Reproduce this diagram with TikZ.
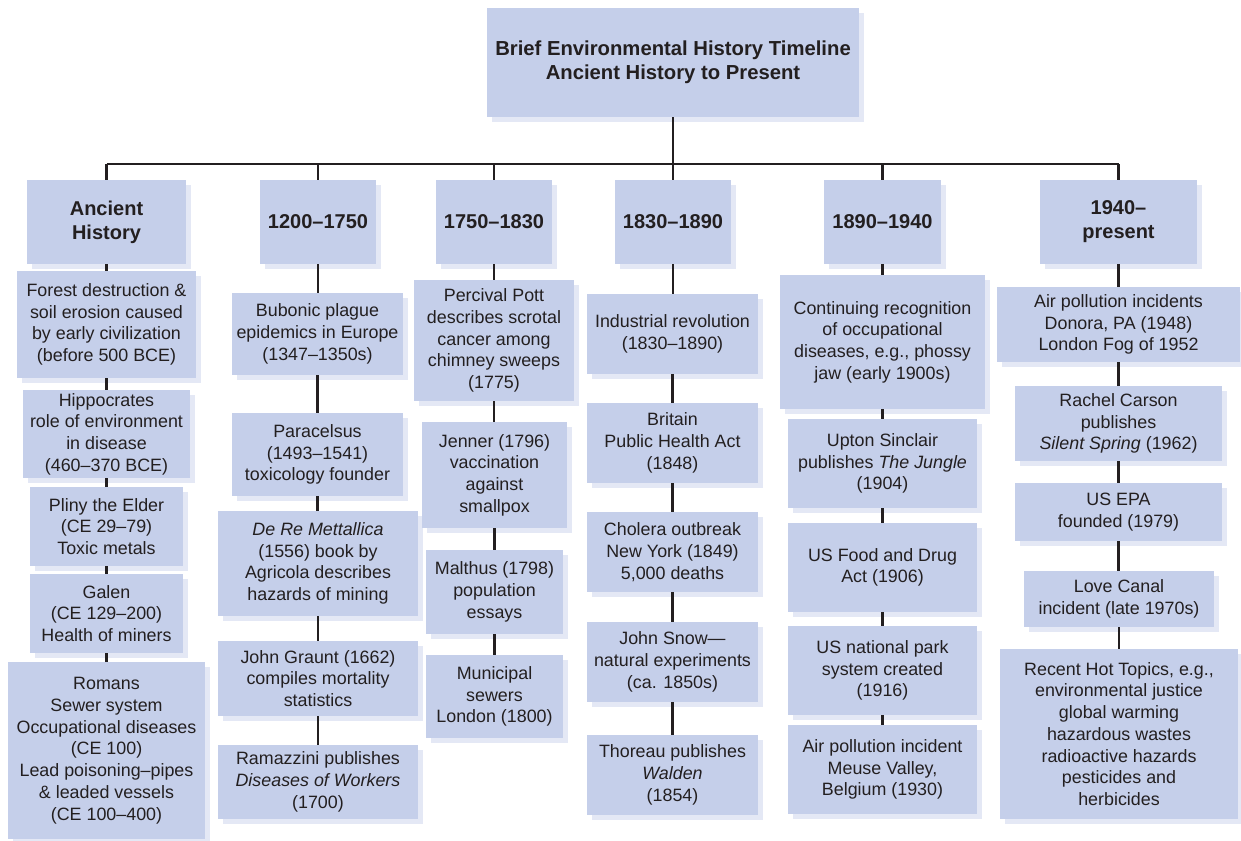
\documentclass[tikz,border=0pt]{standalone}
\usepackage{fontspec}
\setmainfont{Liberation Sans}
\definecolor{boxc}{HTML}{C5CFEA}
\definecolor{shadowc}{HTML}{E4E8F5}
\definecolor{textc}{HTML}{231F20}
\tikzset{
  evbox/.style={fill=boxc, inner sep=0pt, align=center, text=textc,
    font=\fontsize{13.4}{16.3}\selectfont},
  hdbox/.style={evbox, font=\bfseries\fontsize{15}{18}\selectfont},
  ttbox/.style={evbox, font=\bfseries\fontsize{15.2}{18}\selectfont},
  conn/.style={draw=textc, line width=1.6pt}
}
\newcommand\tlbox[7]{%
  \fill[shadowc] (#3+5,#4+5) rectangle (#5+5,#6+5);
  \node[#1, minimum width={(#5-#3)*0.75pt}, minimum height={(#6-#4)*0.75pt}]
    (#2) at ({(#3+#5)/2},{(#4+#6)/2}) {#7};
}
\begin{document}
\begin{tikzpicture}[x=0.75pt,y=-0.75pt]
\useasboundingbox (0,0) rectangle (1241,841);

% title
\tlbox{ttbox}{title}{487}{8}{859}{117}{Brief Environmental History Timeline\\Ancient History to Present}

% headers
\tlbox{hdbox}{h1}{27}{180}{186}{264}{Ancient\\History}
\tlbox{hdbox}{h2}{260}{180}{376}{264}{1200--1750}
\tlbox{hdbox}{h3}{436}{180}{552}{264}{1750--1830}
\tlbox{hdbox}{h4}{615}{180}{731}{264}{1830--1890}
\tlbox{hdbox}{h5}{824}{180}{941}{264}{1890--1940}
\tlbox{hdbox}{h6}{1040}{180}{1197}{264}{1940--\\present}

% column 1
\tlbox{evbox}{a1}{17}{271}{196}{378}{Forest destruction \&\\soil erosion caused\\by early civilization\\(before 500 BCE)}
\tlbox{evbox}{a2}{23}{390}{190}{478}{Hippocrates\\role of environment\\in disease\\(460--370 BCE)}
\tlbox{evbox}{a3}{30}{487}{183}{566}{Pliny the Elder\\(CE 29--79)\\Toxic metals}
\tlbox{evbox}{a4}{30}{574}{183}{653}{Galen\\(CE 129--200)\\Health of miners}
\tlbox{evbox}{a5}{8}{662}{205}{839}{Romans\\Sewer system\\Occupational diseases\\(CE 100)\\Lead poisoning--pipes\\\& leaded vessels\\(CE 100--400)}

% column 2
\tlbox{evbox}{b1}{232}{293}{403}{375}{Bubonic plague\\epidemics in Europe\\(1347--1350s)}
\tlbox{evbox}{b2}{232}{413}{403}{496}{Paracelsus\\(1493--1541)\\toxicology founder}
\tlbox{evbox}{b3}{218}{511}{418}{616}{\textit{De Re Mettallica}\\(1556) book by\\Agricola describes\\hazards of mining}
\tlbox{evbox}{b4}{218}{641}{418}{716}{John Graunt (1662)\\compiles mortality\\statistics}
\tlbox{evbox}{b5}{218}{745}{418}{819}{Ramazzini publishes\\\textit{Diseases of Workers}\\(1700)}

% column 3
\tlbox{evbox}{c1}{414}{280}{574}{401}{Percival Pott\\describes scrotal\\cancer among\\chimney sweeps\\(1775)}
\tlbox{evbox}{c2}{422}{422}{567}{528}{Jenner (1796)\\vaccination\\against\\smallpox}
\tlbox{evbox}{c3}{426}{550}{563}{634}{Malthus (1798)\\population\\essays}
\tlbox{evbox}{c4}{426}{655}{563}{738}{Municipal\\sewers\\London (1800)}

% column 4
\tlbox{evbox}{d1}{587}{294}{758}{374}{Industrial revolution\\(1830--1890)}
\tlbox{evbox}{d2}{587}{403}{758}{483}{Britain\\Public Health Act\\(1848)}
\tlbox{evbox}{d3}{587}{512}{758}{592}{Cholera outbreak\\New York (1849)\\5,000 deaths}
\tlbox{evbox}{d4}{587}{622}{758}{702}{John Snow---\\natural experiments\\(ca. 1850s)}
\tlbox{evbox}{d5}{587}{735}{758}{815}{Thoreau publishes\\\textit{Walden}\\(1854)}

% column 5
\tlbox{evbox}{e1}{780}{275}{985}{409}{Continuing recognition\\of occupational\\diseases, e.g., phossy\\jaw (early 1900s)}
\tlbox{evbox}{e2}{788}{419}{977}{508}{Upton Sinclair\\publishes \textit{The Jungle}\\(1904)}
\tlbox{evbox}{e3}{788}{523}{977}{612}{US Food and Drug\\Act (1906)}
\tlbox{evbox}{e4}{788}{626}{977}{715}{US national park\\system created\\(1916)}
\tlbox{evbox}{e5}{788}{725}{977}{814}{Air pollution incident\\Meuse Valley,\\Belgium (1930)}

% column 6
\tlbox{evbox}{f1}{997}{287}{1240}{362}{Air pollution incidents\\Donora, PA (1948)\\London Fog of 1952}
\tlbox{evbox}{f2}{1015}{386}{1222}{461}{Rachel Carson\\publishes\\\textit{Silent Spring} (1962)}
\tlbox{evbox}{f3}{1015}{483}{1222}{541}{US EPA\\founded (1979)}
\tlbox{evbox}{f4}{1024}{571}{1214}{627}{Love Canal\\incident (late 1970s)}
\tlbox{evbox}{f5}{1000}{649}{1238}{819}{Recent Hot Topics, e.g.,\\environmental justice\\global warming\\hazardous wastes\\radioactive hazards\\pesticides and\\herbicides}

% connectors
\coordinate (busL) at (h1.north |- 0,164);
\coordinate (busR) at (h6.north |- 0,164);
\draw[conn] (busL) -- (busR);
\draw[conn] (title.south) -- (title.south |- busL);
\foreach \h in {h1,h2,h3,h4,h5,h6}
  \draw[conn] (\h.north) -- (\h.north |- busL);
\foreach \p/\q in {h1/a1,a1/a2,a2/a3,a3/a4,a4/a5,
                   h2/b1,b1/b2,b2/b3,b3/b4,b4/b5,
                   h3/c1,c1/c2,c2/c3,c3/c4,
                   h4/d1,d1/d2,d2/d3,d3/d4,d4/d5,
                   h5/e1,e1/e2,e2/e3,e3/e4,e4/e5,
                   h6/f1,f1/f2,f2/f3,f3/f4,f4/f5}
  \draw[conn] (\p.south) -- (\p.south |- \q.north);
\end{tikzpicture}
\end{document}
